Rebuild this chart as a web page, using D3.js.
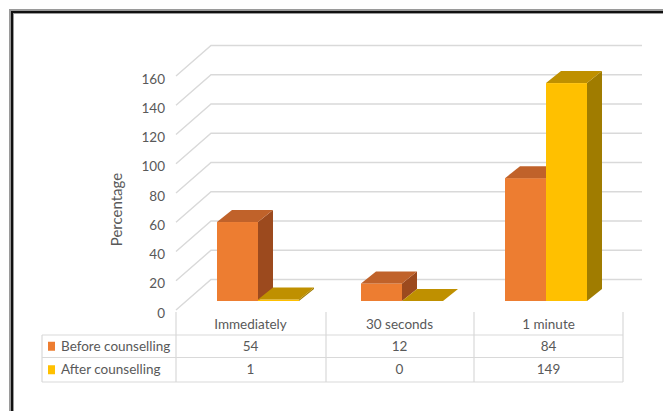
<!DOCTYPE html>
<html>
<head>
<meta charset="utf-8">
<script src="https://cdn.jsdelivr.net/npm/d3@7/dist/d3.min.js"></script>
<style>
  html, body { margin: 0; padding: 0; background: #fff; }
  svg { display: block; }
  text { font-family: Lato, "Open Sans", sans-serif; fill: #595959; }
</style>
</head>
<body>
<svg id="chart" width="663" height="411"></svg>
<script>
// Chart data
const categories = ["Immediately", "30 seconds", "1 minute"];
const seriesNames = ["Before counselling", "After counselling"];
const beforeValues = [54, 12, 84];
const afterValues = [1, 0, 149];
const yTicks = [0, 20, 40, 60, 80, 100, 120, 140, 160];

// Colours per series: front, top, side faces
const palette = [
  { front: "#ED7D31", top: "#C0622A", side: "#9C4A1E", key: "#ED7D31" },
  { front: "#FFC000", top: "#BF9000", side: "#A07C00", key: "#FFC000" }
];

const svg = d3.select("#chart");
const W = 663, H = 411;

// Outer frame
svg.append("rect").attr("x", 11.5).attr("y", 11.5)
  .attr("width", W + 20).attr("height", H + 20)
  .attr("fill", "none").attr("stroke", "#9a9a9a").attr("stroke-width", 5);
svg.append("rect").attr("x", 12).attr("y", 12)
  .attr("width", W + 20).attr("height", H + 20)
  .attr("fill", "none").attr("stroke", "#111").attr("stroke-width", 2);

// 3D geometry
const frontBase = 310;   // floor front edge (axis labels)
const backBase = 279.5;  // back wall baseline
const wallLeftFront = 176, wallLeftBack = 211, wallRight = 642;
const barFrontBase = 301; // bars sit part-way into the floor
const barDepth = { dx: 15, dy: -12 };

const y = d3.scaleLinear().domain([0, 160]).range([0, 234]);
const yFront = v => frontBase - y(v);
const yBack = v => backBase - y(v);

const xBars = d3.scaleBand().domain(categories).range([186, 618]);
const barW = 41;

// Gridlines: diagonal side wall + back wall
const grid = svg.append("g").attr("stroke", "#d9d9d9").attr("stroke-width", 1.4).attr("fill", "none");
yTicks.forEach(v => {
  grid.append("path")
    .attr("d", `M${wallLeftFront},${yFront(v)}L${wallLeftBack},${yBack(v)}H${wallRight}`);
});

// Tick labels
svg.append("g").selectAll("text").data(yTicks).join("text")
  .attr("x", 165).attr("y", v => yFront(v) + 3)
  .attr("dy", "0.35em").attr("text-anchor", "end")
  .attr("font-size", 13.5)
  .text(d => d);

// Axis title
svg.append("text")
  .attr("transform", "translate(121.5,209.5) rotate(-90)")
  .attr("text-anchor", "middle").attr("font-size", 15)
  .text("Percentage");

// Bars
function drawBar(g, x0, v, col) {
  const top = barFrontBase - y(v);
  const x1 = x0 + barW;
  const { dx, dy } = barDepth;
  g.append("path").attr("fill", col.side)
    .attr("d", `M${x1},${top}L${x1 + dx},${top + dy}L${x1 + dx},${barFrontBase + dy}L${x1},${barFrontBase}Z`);
  g.append("rect").attr("fill", col.front)
    .attr("x", x0).attr("y", top).attr("width", barW).attr("height", barFrontBase - top);
  g.append("path").attr("fill", col.top)
    .attr("d", `M${x0},${top}L${x0 + dx},${top + dy}L${x1 + dx},${top + dy}L${x1},${top}Z`);
}

const bars = svg.append("g");
categories.forEach((c, i) => {
  const cx = xBars(c) + xBars.bandwidth() / 2;
  drawBar(bars, cx - barW, beforeValues[i], palette[0]);
  drawBar(bars, cx, afterValues[i], palette[1]);
});

// Data table
const xTable = d3.scaleBand().domain(categories).range([176, 623]);
const rowTops = [312, 335, 357.5, 382];
const tableLeft = 42;
const tl = svg.append("g").attr("stroke", "#d9d9d9").attr("stroke-width", 1.2).attr("fill", "none");
rowTops.slice(1).forEach(ry => {
  tl.append("line").attr("x1", tableLeft).attr("x2", 623).attr("y1", ry).attr("y2", ry);
});
tl.append("line").attr("x1", tableLeft).attr("x2", tableLeft).attr("y1", rowTops[1]).attr("y2", rowTops[3]);
[176, 326, 474, 623].forEach(vx => {
  tl.append("line").attr("x1", vx).attr("x2", vx).attr("y1", rowTops[0]).attr("y2", rowTops[3]);
});

// Category headers
svg.append("g").selectAll("text").data(categories).join("text")
  .attr("x", c => xTable(c) + xTable.bandwidth() / 2)
  .attr("y", (rowTops[0] + rowTops[1]) / 2 + 1)
  .attr("dy", "0.35em").attr("text-anchor", "middle").attr("font-size", 13.5)
  .text(c => c);

// Rows: legend key + values
[beforeValues, afterValues].forEach((vals, r) => {
  const cy = (rowTops[r + 1] + rowTops[r + 2]) / 2;
  svg.append("rect").attr("x", 48).attr("y", cy - 4.5).attr("width", 7).attr("height", 9)
    .attr("fill", palette[r].key);
  svg.append("text").attr("x", 61).attr("y", cy).attr("dy", "0.35em")
    .attr("font-size", 13.5).text(seriesNames[r]);
  svg.append("g").selectAll("text").data(vals).join("text")
    .attr("x", (d, i) => xTable(categories[i]) + xTable.bandwidth() / 2)
    .attr("y", cy).attr("dy", "0.35em").attr("text-anchor", "middle").attr("font-size", 13.5)
    .text(d => d);
});
</script>
</body>
</html>
